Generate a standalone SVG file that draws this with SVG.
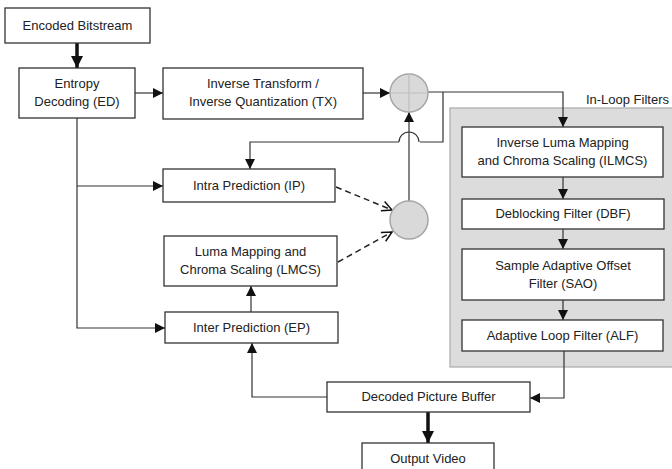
<svg xmlns="http://www.w3.org/2000/svg" width="672" height="469" viewBox="0 0 672 469">
<style>
.box{fill:#fff;stroke:#333;stroke-width:1.3}
.t{font-family:"Liberation Sans",Arial,sans-serif;font-size:13px;fill:#222;text-anchor:middle}
.ln{fill:none;stroke:#333;stroke-width:1.2}
.thick{fill:none;stroke:#111;stroke-width:3.5}
.dash{fill:none;stroke:#222;stroke-width:1.5;stroke-dasharray:6,4}
</style>
<defs>
<marker id="ah" viewBox="0 0 10 10" refX="10" refY="5" markerWidth="10" markerHeight="10" markerUnits="userSpaceOnUse" orient="auto">
<path d="M0,0 L10,5 L0,10 z" fill="#111"/>
</marker>
<marker id="ahb" viewBox="0 0 12 12" refX="12" refY="6" markerWidth="12" markerHeight="12" markerUnits="userSpaceOnUse" orient="auto">
<path d="M0,0 L12,6 L0,12 z" fill="#111"/>
</marker>
<marker id="ao" viewBox="0 0 12 12" refX="11" refY="6" markerWidth="12" markerHeight="12" markerUnits="userSpaceOnUse" orient="auto">
<path d="M1,1 L11,6 L1,11" fill="none" stroke="#111" stroke-width="1.5"/>
</marker>
</defs>
<rect width="672" height="469" fill="#fff"/>
<g id="inloop">
<rect x="450" y="108" width="230" height="259" fill="#dcdcdc" stroke="#aaa" stroke-width="1.2"/>
<text class="t" x="669" y="104" style="text-anchor:end">In-Loop Filters</text>
</g>
<g id="connectors">
<path class="thick" d="M77,43 V68" marker-end="url(#ahb)"/>
<path class="ln" d="M135,93 H163" marker-end="url(#ah)"/>
<path class="ln" d="M363,93 H390" marker-end="url(#ah)"/>
<path class="ln" d="M428,92 H563 V127" marker-end="url(#ah)"/>
<path class="ln" d="M443,92 V142 H420 M399,142 H250 V169" marker-end="url(#ah)"/>
<path class="ln" d="M399,142 A10,10 0 0 1 419,142"/>
<path class="ln" d="M409,201 V112" marker-end="url(#ah)"/>
<path class="ln" d="M77,118 V328 H165" marker-end="url(#ah)"/>
<path class="ln" d="M77,186 H163" stroke="#666" marker-end="url(#ah)"/>
<path class="ln" d="M251,312 V286" marker-end="url(#ah)"/>
<path class="dash" d="M336,187 L392,210" marker-end="url(#ao)"/>
<path class="dash" d="M338,262 L392,232" marker-end="url(#ao)"/>
<path class="ln" d="M563,177 V199" marker-end="url(#ah)"/>
<path class="ln" d="M563,229 V249" marker-end="url(#ah)"/>
<path class="ln" d="M563,300 V320" marker-end="url(#ah)"/>
<path class="ln" d="M564,351 V398 H530" marker-end="url(#ah)"/>
<path class="ln" d="M327,397 H252 V343" marker-end="url(#ah)"/>
<path class="thick" d="M428,412 V443" marker-end="url(#ahb)"/>
</g>
<g id="adder">
<circle cx="409" cy="93" r="19" fill="#d9d9d9" stroke="#a6a6a6" stroke-width="1.5"/>
<path d="M390,93 H428 M409,74 V112" stroke="#bdbdbd" stroke-width="1.2"/>
</g>
<g id="selector">
<circle cx="409" cy="220" r="19" fill="#d9d9d9" stroke="#a6a6a6" stroke-width="1.5"/>
</g>
<g id="bitstream"><rect class="box" x="5" y="8" width="145" height="35"/><text class="t" x="77.5" y="30">Encoded Bitstream</text></g>
<g id="ed"><rect class="box" x="19" y="68" width="116" height="50"/><text class="t" x="77" y="88">Entropy</text><text class="t" x="77" y="106">Decoding (ED)</text></g>
<g id="tx"><rect class="box" x="163" y="68" width="200" height="51"/><text class="t" x="263" y="88">Inverse Transform /</text><text class="t" x="263" y="106">Inverse Quantization (TX)</text></g>
<g id="ip"><rect class="box" x="163" y="169" width="172" height="33"/><text class="t" x="249" y="190">Intra Prediction (IP)</text></g>
<g id="lmcs"><rect class="box" x="164" y="236" width="173" height="50"/><text class="t" x="250.5" y="256">Luma Mapping and</text><text class="t" x="250.5" y="274">Chroma Scaling (LMCS)</text></g>
<g id="ep"><rect class="box" x="165" y="312" width="173" height="31"/><text class="t" x="251.5" y="332">Inter Prediction (EP)</text></g>
<g id="ilmcs"><rect class="box" x="462" y="127" width="201" height="50"/><text class="t" x="562.5" y="147">Inverse Luma Mapping</text><text class="t" x="562.5" y="165">and Chroma Scaling (ILMCS)</text></g>
<g id="dbf"><rect class="box" x="462" y="199" width="202" height="30"/><text class="t" x="563" y="218">Deblocking Filter (DBF)</text></g>
<g id="sao"><rect class="box" x="462" y="249" width="202" height="51"/><text class="t" x="563" y="270">Sample Adaptive Offset</text><text class="t" x="563" y="288">Filter (SAO)</text></g>
<g id="alf"><rect class="box" x="462" y="320" width="201" height="31"/><text class="t" x="562.5" y="340">Adaptive Loop Filter (ALF)</text></g>
<g id="dpb"><rect class="box" x="327" y="382" width="203" height="30"/><text class="t" x="428.5" y="401">Decoded Picture Buffer</text></g>
<g id="output"><rect class="box" x="362" y="443" width="132" height="32"/><text class="t" x="428" y="463">Output Video</text></g>
</svg>
